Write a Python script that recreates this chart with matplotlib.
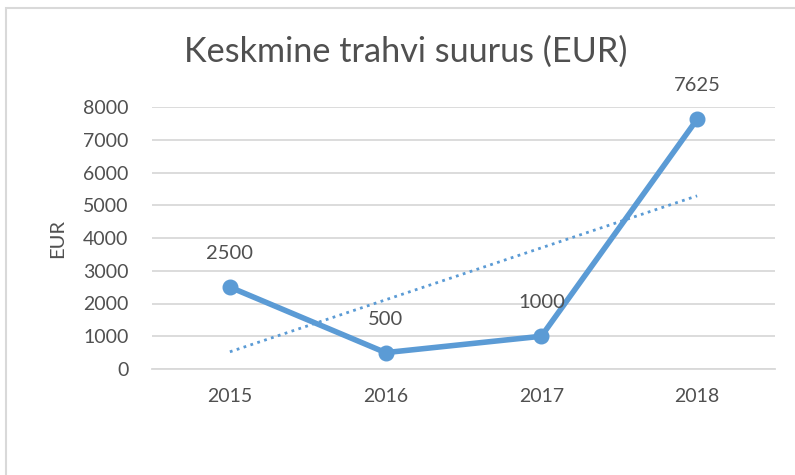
import numpy as np
import matplotlib.pyplot as plt
from matplotlib.patches import Rectangle

plt.rcParams['font.family'] = ['Lato', 'DejaVu Sans']

aastad = ['2015', '2016', '2017', '2018']
trahv = [2500, 500, 1000, 7625]

sinine = '#5B9BD5'
hall = '#505050'
joon = '#D9D9D9'

fig = plt.figure(figsize=(7.95, 4.75), dpi=100)
ax = fig.add_axes([152/795, 1-369/475, (775-152)/795, (369-107)/475])

x = np.arange(len(aastad))
ax.plot(x, trahv, color=sinine, lw=4, marker='o', ms=10.5, solid_capstyle='round', zorder=3)

# lineaarne trend nagu Excelis
k, b = np.polyfit(x, trahv, 1)
ax.plot(x, k*x + b, color=sinine, lw=2, linestyle=(0, (1, 1.6)), zorder=2)

for xi, yi in zip(x, trahv):
    ax.annotate(str(yi), (xi, yi), xytext=(0, 24), textcoords='offset points',
                ha='center', va='center', fontsize=14.5, color=hall)

ax.set_xlim(-0.5, 3.5)
ax.set_ylim(0, 8000)
ax.set_yticks(range(0, 8001, 1000))
ax.set_xticks(x, aastad)
ax.grid(axis='y', color=joon, lw=1.3)
ax.set_axisbelow(True)
for s in ['top', 'right', 'left']:
    ax.spines[s].set_visible(False)
ax.spines['bottom'].set_color(joon)
ax.spines['bottom'].set_linewidth(1.3)
ax.tick_params(length=0, labelsize=14, colors=hall)
ax.tick_params(axis='x', pad=14)
ax.tick_params(axis='y', pad=17)
ax.set_ylabel('EUR', fontsize=14.5, color=hall, labelpad=12)

fig.text(0.510, 1-52/475, 'Keskmine trahvi suurus (EUR)', ha='center', va='center',
         fontsize=24.7, color=hall)

fig.patches.append(Rectangle((6/795, -0.1), 1.2, 1-8/475+0.1, transform=fig.transFigure,
                             fill=False, edgecolor='#D9D9D9', lw=1.5))

fig.savefig('out.png', dpi=100)
